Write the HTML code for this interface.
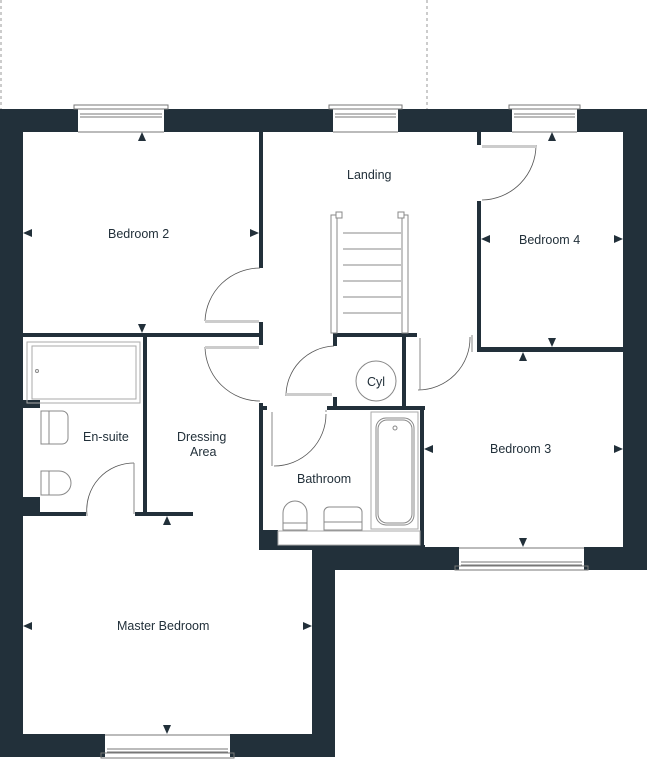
<!DOCTYPE html>
<html><head><meta charset="utf-8"><style>
html,body{margin:0;padding:0;background:#fff;}
svg{display:block;}
text{font-family:"Liberation Sans",sans-serif;font-size:12.5px;fill:#22303a;}
</style></head><body>
<svg width="647" height="761" viewBox="0 0 647 761" xmlns="http://www.w3.org/2000/svg">
<g fill="none" stroke="#999" stroke-dasharray="3,3" stroke-width="1">
<line x1="1" y1="0" x2="1" y2="109"/><line x1="427" y1="0" x2="427" y2="109"/>
</g>
<g fill="#22303a">
<!-- outer walls -->
<rect x="0" y="109" width="78" height="23"/>
<rect x="164" y="109" width="169" height="23"/>
<rect x="398" y="109" width="114" height="23"/>
<rect x="577" y="109" width="70" height="23"/>
<rect x="0" y="109" width="23" height="648"/>
<rect x="623" y="109" width="24" height="461"/>
<rect x="0" y="734" width="105" height="23"/>
<rect x="230" y="734" width="105" height="23"/>
<rect x="312" y="548" width="23" height="209"/>
<rect x="312" y="547" width="147" height="23"/>
<rect x="584" y="547" width="63" height="23"/>
<!-- Bedroom 2 -->
<rect x="259" y="132" width="4" height="136"/>
<rect x="23" y="333" width="240" height="4"/>
<rect x="259" y="322" width="4" height="23"/>
<!-- Bedroom 4 -->
<rect x="477" y="132" width="4" height="13"/>
<rect x="477" y="201" width="4" height="151"/>
<rect x="477" y="347" width="146" height="5"/>
<!-- stairs base and cyl -->
<rect x="333" y="333" width="84" height="4"/>
<rect x="333" y="337" width="4" height="9"/>
<rect x="333" y="397" width="4" height="12"/>
<rect x="402" y="337" width="4" height="73"/>
<rect x="327" y="406" width="98" height="4"/>
<!-- bathroom -->
<rect x="259" y="403" width="4" height="147"/>
<rect x="259" y="406" width="8" height="4"/>
<rect x="420" y="406" width="4" height="142"/>
<rect x="259" y="530" width="19" height="20"/>
<rect x="259" y="545" width="166" height="5"/>
<!-- ensuite -->
<rect x="143" y="337" width="4" height="179"/>
<rect x="23" y="400" width="17" height="8"/>
<rect x="23" y="497" width="17" height="19"/>
<rect x="40" y="512" width="46" height="4"/>
<rect x="135" y="512" width="58" height="4"/>
<!-- arrows -->
<polygon points="142,132 146,141 138,141"/>
<polygon points="142,333 146,324 138,324"/>
<polygon points="23,233 32,229 32,237"/>
<polygon points="259,233 250,229 250,237"/>
<polygon points="552,132 556,141 548,141"/>
<polygon points="552,347 556,338 548,338"/>
<polygon points="481,239 490,235 490,243"/>
<polygon points="623,239 614,235 614,243"/>
<polygon points="523,352 527,361 519,361"/>
<polygon points="523,547 527,538 519,538"/>
<polygon points="424,449 433,445 433,453"/>
<polygon points="623,449 614,445 614,453"/>
<polygon points="167,516 171,525 163,525"/>
<polygon points="23,626 32,622 32,630"/>
<polygon points="312,626 303,622 303,630"/>
<polygon points="167,734 171,725 163,725"/>
</g>
<!-- windows -->
<g fill="none" stroke="#777" stroke-width="1">
<rect x="74" y="105" width="94" height="4"/><line x1="80" y1="114" x2="162" y2="114"/><line x1="80" y1="117" x2="162" y2="117"/><line x1="78" y1="132" x2="164" y2="132"/>
<rect x="329" y="105" width="73" height="4"/><line x1="335" y1="114" x2="396" y2="114"/><line x1="335" y1="117" x2="396" y2="117"/><line x1="333" y1="132" x2="398" y2="132"/>
<rect x="509" y="105" width="71" height="4"/><line x1="514" y1="114" x2="575" y2="114"/><line x1="514" y1="117" x2="575" y2="117"/><line x1="512" y1="132" x2="577" y2="132"/>
<rect x="455" y="566" width="133" height="4"/><line x1="461" y1="562" x2="582" y2="562"/><line x1="461" y1="565" x2="582" y2="565"/><line x1="459" y1="548" x2="584" y2="548"/>
<rect x="101" y="753" width="133" height="5"/><line x1="107" y1="749" x2="228" y2="749"/><line x1="107" y1="752" x2="228" y2="752"/><line x1="105" y1="735" x2="230" y2="735"/>
</g>
<!-- doors -->
<g fill="none" stroke="#555" stroke-width="0.8">
<path d="M205,321 A55,55 0 0 1 260,268"/>
<path d="M205,347 A55,55 0 0 0 260,401"/>
<path d="M286,396 A50,50 0 0 1 334,346"/>
<path d="M274,466 A52,52 0 0 0 326,414"/>
<path d="M482,200 A55,55 0 0 0 536,145"/>
<path d="M418,390 A52,52 0 0 0 470,337"/>
<path d="M87,515 A47,47 0 0 1 134,463"/>
</g>
<g fill="#ccc">
<rect x="205" y="320" width="54" height="3"/>
<rect x="205" y="346" width="54" height="3"/>
<rect x="482" y="145" width="54" height="3"/>
<rect x="286" y="393" width="46" height="3"/>
</g>
<g fill="none" stroke="#888" stroke-width="1">
<line x1="272" y1="412" x2="272" y2="466"/><line x1="326" y1="412" x2="326" y2="410"/>
<line x1="420" y1="338" x2="420" y2="390"/><line x1="472" y1="335" x2="472" y2="352"/>
<line x1="134" y1="463" x2="134" y2="514"/><line x1="87" y1="514" x2="87" y2="516"/>
<!-- stairs -->
<rect x="331" y="215" width="6" height="118"/><rect x="402" y="215" width="6" height="118"/>
<rect x="336" y="212" width="6" height="6" fill="#fff"/><rect x="398" y="212" width="6" height="6" fill="#fff"/>
<line x1="343" y1="233" x2="401" y2="233"/><line x1="343" y1="249" x2="401" y2="249"/><line x1="343" y1="265" x2="401" y2="265"/>
<line x1="343" y1="281" x2="401" y2="281"/><line x1="343" y1="297" x2="401" y2="297"/><line x1="343" y1="313" x2="401" y2="313"/>
<circle cx="376" cy="381" r="20"/>
<!-- ensuite bath -->
<rect x="27" y="342" width="113" height="61" stroke="#aaa"/>
<rect x="32" y="346" width="104" height="53" stroke="#aaa"/>
<circle cx="37" cy="371" r="1.5"/>
<path d="M41,411 h21 a6,6 0 0 1 6,6 v21 a6,6 0 0 1 -6,6 h-21 z"/><line x1="49" y1="411" x2="49" y2="444"/>
<path d="M41,471 h18 a12,12 0 0 1 0,24 h-18 z"/><line x1="49" y1="471" x2="49" y2="495"/>
<!-- bathroom -->
<rect x="371" y="412" width="47" height="117" stroke="#aaa"/>
<rect x="376" y="418" width="38" height="107" rx="10"/>
<rect x="378" y="420" width="34" height="103" rx="9"/>
<circle cx="395" cy="428" r="2"/>
<path d="M283,530 v-17 a12,12 0 0 1 24,0 v17 z"/><line x1="283" y1="523" x2="307" y2="523"/>
<path d="M324,530 v-18 a5,5 0 0 1 5,-5 h28 a5,5 0 0 1 5,5 v18 z"/><line x1="324" y1="522" x2="362" y2="522"/>
<rect x="278" y="531" width="142" height="14" stroke="#aaa"/>
</g>
<text x="347" y="179">Landing</text>
<text x="108" y="238">Bedroom 2</text>
<text x="519" y="244">Bedroom 4</text>
<text x="367" y="386">Cyl</text>
<text x="83" y="441">En-suite</text>
<text x="177" y="441">Dressing</text>
<text x="190" y="456">Area</text>
<text x="490" y="453">Bedroom 3</text>
<text x="297" y="483">Bathroom</text>
<text x="117" y="630">Master Bedroom</text>
</svg>
</body></html>
